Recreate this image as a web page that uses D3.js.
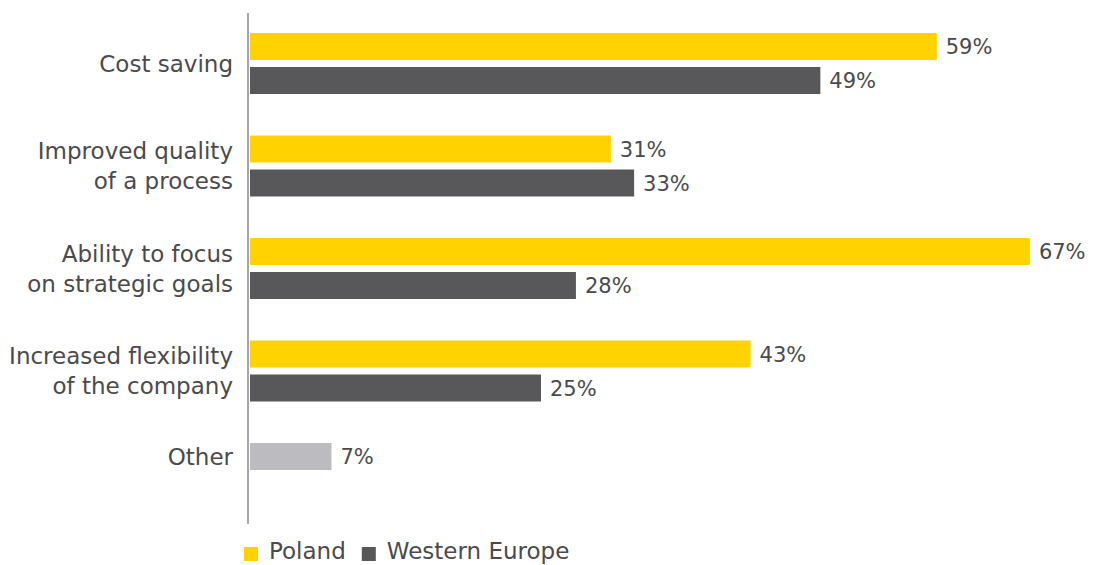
<!DOCTYPE html>
<html>
<head>
<meta charset="utf-8">
<script src="https://cdn.jsdelivr.net/npm/d3@7"></script>
<style>
  html, body { margin: 0; padding: 0; background: #fff; }
  svg { display: block; font-family: "DejaVu Sans", "Noto Sans", sans-serif; }
</style>
</head>
<body>
<svg id="chart" width="1093" height="565"></svg>
<script>
// Reasons for outsourcing: share of respondents
const categories = [
  ["Cost saving"],
  ["Improved quality", "of a process"],
  ["Ability to focus", "on strategic goals"],
  ["Increased flexibility", "of the company"],
  ["Other"]
];
const seriesNames = ["Poland", "Western Europe"];
const poland = [59, 31, 67, 43, 7];
const westernEurope = [49, 33, 28, 25, null];
const colors = { "Poland": "#ffd200", "Western Europe": "#58585a", "Other": "#bcbcc0" };

const svg = d3.select("#chart");
const textColor = "#4a4a4c";

const keys = categories.map(c => c.join(" "));

const x = d3.scaleLinear().domain([0, 100]).range([250, 1414]);
const y0 = d3.scaleBand().domain(keys).range([33, 504]).paddingInner(0.405).paddingOuter(0);
const y1 = d3.scaleBand().domain(seriesNames).range([0, y0.bandwidth()]).paddingInner(0.206);

const rows = keys.map((k, i) => ({
  key: k,
  lines: categories[i],
  values: [
    { series: "Poland", value: poland[i] },
    { series: "Western Europe", value: westernEurope[i] }
  ].filter(d => d.value != null)
}));

const groups = svg.selectAll("g.group").data(rows).enter().append("g")
  .attr("class", "group")
  .attr("transform", d => `translate(0,${y0(d.key)})`);

groups.selectAll("rect").data(d => d.values.map(v => ({ ...v, key: d.key }))).enter().append("rect")
  .attr("x", x(0))
  .attr("y", d => y1(d.series))
  .attr("width", d => x(d.value) - x(0))
  .attr("height", y1.bandwidth())
  .attr("fill", d => d.key === "Other" ? colors.Other : colors[d.series]);

groups.selectAll("text.value").data(d => d.values).enter().append("text")
  .attr("class", "value")
  .attr("x", d => x(d.value) + 9)
  .attr("y", d => y1(d.series) + y1.bandwidth() / 2)
  .attr("dy", "0.36em")
  .attr("fill", textColor)
  .attr("font-size", 21)
  .text(d => d.value + "%");

// Category labels, vertically centred on their group
groups.each(function (d) {
  const g = d3.select(this);
  const cy = d.values.length > 1 ? y0.bandwidth() / 2 : y1.bandwidth() / 2;
  const lh = 30;
  const t = g.append("text")
    .attr("x", 233)
    .attr("text-anchor", "end")
    .attr("fill", textColor)
    .attr("font-size", 23);
  d.lines.forEach((line, j) => {
    t.append("tspan")
      .attr("x", 233)
      .attr("y", cy + (j - (d.lines.length - 1) / 2) * lh)
      .attr("dy", "0.36em")
      .text(line);
  });
});

// Vertical axis line
svg.append("line")
  .attr("x1", 248).attr("x2", 248)
  .attr("y1", 13).attr("y2", 524)
  .attr("stroke", "#a7a7a9")
  .attr("stroke-width", 2);

// Legend
const legend = svg.append("g").attr("transform", "translate(244,547)");
let lx = 0;
seriesNames.forEach(name => {
  const item = legend.append("g").attr("transform", `translate(${lx},0)`);
  item.append("rect").attr("width", 14).attr("height", 14).attr("fill", colors[name]);
  const t = item.append("text")
    .attr("x", 25).attr("y", 12)
    .attr("fill", textColor).attr("font-size", 23)
    .text(name);
  lx += 25 + t.node().getComputedTextLength() + 16;
});
</script>
</body>
</html>
